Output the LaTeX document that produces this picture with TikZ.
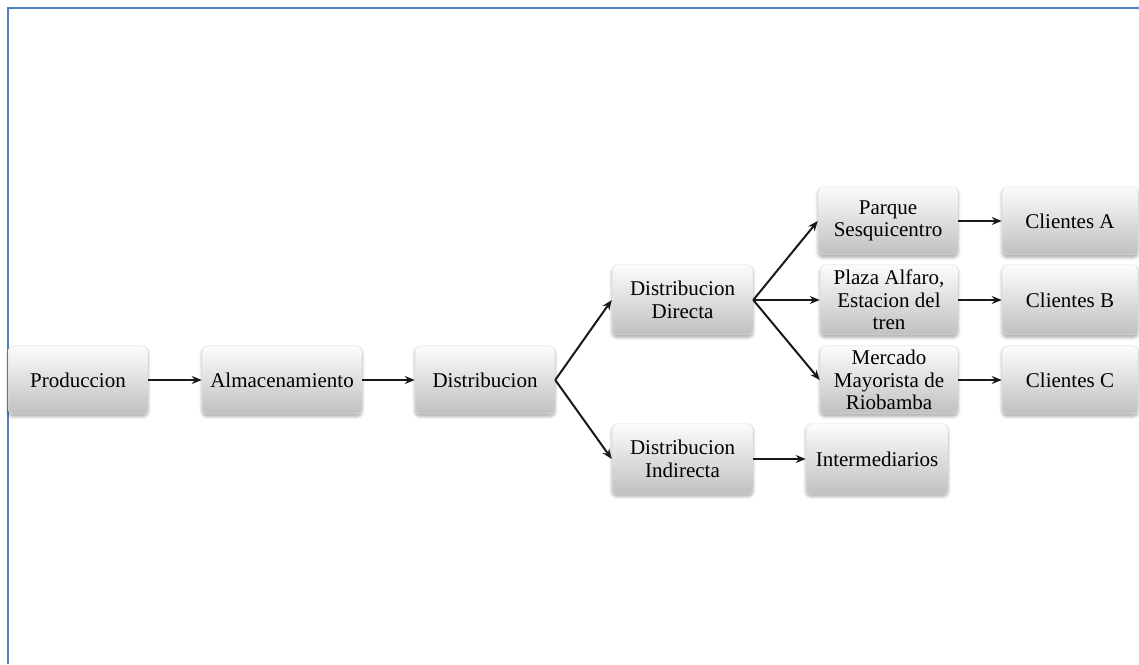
\documentclass[tikz,border=0pt]{standalone}
\usepackage{fontspec}
\setmainfont{Liberation Serif}
\usetikzlibrary{arrows.meta,shadows.blur}
\definecolor{framebl}{RGB}{79,129,189}
\definecolor{boxtop}{RGB}{252,252,252}
\definecolor{boxbot}{RGB}{192,192,192}
\tikzset{
  stagebox/.style={rounded corners=5pt, top color=boxtop, bottom color=boxbot,
    draw=white!88!black, line width=0.5pt, align=center,
    font=\fontsize{21}{22.5}\selectfont, inner sep=0pt,
    minimum width=140pt, minimum height=68pt,
    blur shadow={shadow xshift=0pt, shadow yshift=-2.5pt, shadow blur radius=3pt, shadow opacity=35}},
  flow/.style={-{Stealth[length=10pt,width=8pt]}, line width=2pt, black!90}
}
\begin{document}
\begin{tikzpicture}[x=1pt,y=1pt]
\useasboundingbox (0,0) rectangle (1139,664);
% page frame
\draw[framebl, line width=2pt] (7.5,0) -- (7.5,655.5) -- (1139,655.5);

% main chain
\node[stagebox] (prod) at (78,284) {Produccion};
\node[stagebox, minimum width=160pt] (alm) at (282,284) {Almacenamiento};
\node[stagebox] (dist) at (485,284) {Distribucion};

% distribution channels
\node[stagebox, minimum width=141pt, minimum height=70pt] (dd) at (682.5,364) {Distribucion\\Directa};
\node[stagebox, minimum width=141pt, minimum height=70pt] (di) at (682.5,205) {Distribucion\\Indirecta};
\node[stagebox, minimum width=142pt, minimum height=70pt] (inter) at (877,205) {Intermediarios};

% direct sales points
\node[stagebox] (parque) at (888,443) {Parque\\Sesquicentro};
\node[stagebox, minimum width=138pt, minimum height=70pt] (plaza) at (889,364) {Plaza Alfaro,\\Estacion del\\tren};
\node[stagebox, minimum width=138pt] (merc) at (889,284) {Mercado\\Mayorista de\\Riobamba};

% customers
\node[stagebox, minimum width=136pt] (ca) at (1070,443) {Clientes A};
\node[stagebox, minimum width=136pt, minimum height=70pt] (cb) at (1070,364) {Clientes B};
\node[stagebox, minimum width=136pt] (cc) at (1070,284) {Clientes C};

% connectors
\draw[flow] (prod.east) -- (alm.west);
\draw[flow] (alm.east) -- (dist.west);
\draw[flow] (dist.east) -- (dd.west);
\draw[flow] (dist.east) -- (di.west);
\draw[flow] (di.east) -- (inter.west);
\draw[flow] (dd.east) -- (parque.west);
\draw[flow] (dd.east) -- (plaza.west);
\draw[flow] (dd.east) -- (merc.west);
\draw[flow] (parque.east) -- (ca.west);
\draw[flow] (plaza.east) -- (cb.west);
\draw[flow] (merc.east) -- (cc.west);
\end{tikzpicture}
\end{document}
